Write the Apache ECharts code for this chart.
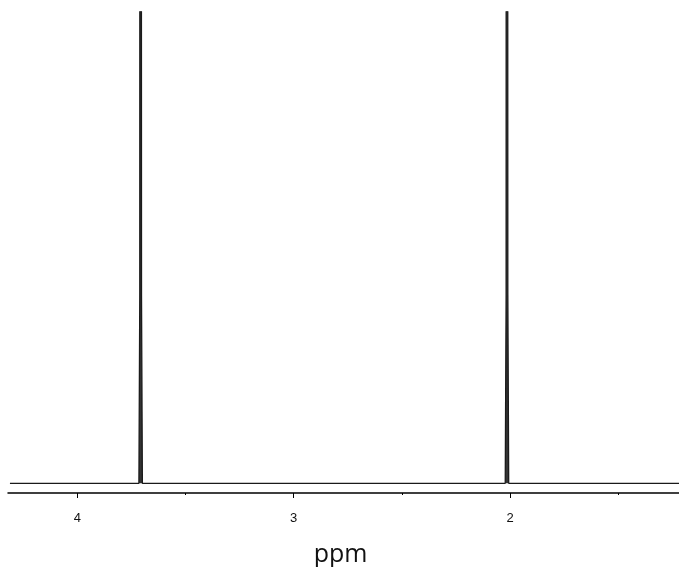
<!DOCTYPE html>
<html>
<head>
<meta charset="utf-8">
<script src="https://cdn.jsdelivr.net/npm/echarts@6/dist/echarts.min.js"></script>
<style>
html, body { margin: 0; padding: 0; background: #fff; }
#main { width: 679px; height: 567px; }
</style>
</head>
<body>
<div id="main"></div>
<script>
var myChart = echarts.init(document.getElementById('main'));

// spectrum points [ppm, intensity] (peaks run off the top)
var spectrum = [
    [4.311, 0], [3.715, 0], [3.711, 40], [3.708, 900], [3.706, 900], [3.703, 40], [3.699, 0],
    [2.022, 0], [2.018, 40], [2.015, 900], [2.013, 900], [2.010, 40], [2.006, 0], [1.219, 0]
];
// visible ppm window
var ppmRange = [1.219, 4.320];
// tick labels and tick positions
var majorTicks = [4, 3, 2];
var minorTicks = [3.5, 2.5, 1.5];

var option = {
    animation: false,
    backgroundColor: '#fff',
    grid: { left: 8, right: 0, top: 12, bottom: 74, outerBoundsMode: 'none' },
    xAxis: [
        {
            type: 'value',
            inverse: true,
            min: ppmRange[0],
            max: ppmRange[1],
            axisLine: { show: true, onZero: false, lineStyle: { color: '#000', width: 1.5 } },
            axisTick: { show: true, customValues: majorTicks, length: 5, lineStyle: { color: '#000', width: 1 } },
            axisLabel: {
                customValues: majorTicks,
                margin: 19,
                fontFamily: 'Liberation Sans',
                fontSize: 13,
                color: '#111'
            },
            splitLine: { show: false },
            name: 'ppm',
            nameLocation: 'middle',
            nameGap: 49,
            nameTextStyle: { fontFamily: 'Open Sans', fontSize: 25, color: '#111', padding: [0, 6, 0, 0] }
        },
        {
            type: 'value',
            inverse: true,
            position: 'bottom',
            min: ppmRange[0],
            max: ppmRange[1],
            axisLine: { show: false, onZero: false },
            axisTick: { show: true, customValues: minorTicks, length: 2, lineStyle: { color: '#000', width: 1 } },
            axisLabel: { show: false },
            splitLine: { show: false }
        }
    ],
    yAxis: { type: 'value', min: -2.06, max: 100, show: false },
    series: [{
        type: 'line',
        data: spectrum,
        showSymbol: false,
        clip: true,
        lineStyle: { color: '#1a1a1a', width: 1.3 },
        areaStyle: { color: '#333', opacity: 1 }
    }]
};

myChart.setOption(option);
</script>
</body>
</html>
